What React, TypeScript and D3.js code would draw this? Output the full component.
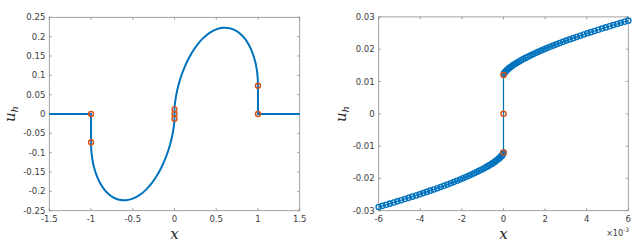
import React from "react";
import * as d3 from "d3";

// ---------- Data ----------
// Left panel: right half of the numerical solution on (0,1]; left half is its odd mirror
const leftHalfX = [0, 0.0005, 0.002, 0.006, 0.012, 0.02, 0.03, 0.045, 0.065, 0.09, 0.12, 0.16, 0.21, 0.27, 0.34, 0.42, 0.5, 0.58, 0.66, 0.73, 0.79, 0.845, 0.89, 0.925, 0.955, 0.975, 0.99, 0.997, 0.9995, 1.0];
const leftHalfU = [0.012, 0.0152, 0.02, 0.0286, 0.038, 0.0482, 0.0588, 0.0724, 0.0877, 0.104, 0.1207, 0.1396, 0.1592, 0.1782, 0.1955, 0.2099, 0.2189, 0.223, 0.2219, 0.2161, 0.207, 0.1942, 0.1793, 0.1635, 0.145, 0.1278, 0.1083, 0.0926, 0.0811, 0.0732];
const outerX = [1, 1.5];
const outerU = [0, 0];
// orange markers on the left panel
const leftMarkX = [-1, -1, 0, 0, 0, 1, 1];
const leftMarkU = [0, -0.073, -0.012, 0, 0.012, 0.073, 0];

// Right panel (x in units of 1e-3): positive half, negative half is odd mirror
const rightHalfX = [0, 0.02, 0.05, 0.08, 0.12, 0.17, 0.22, 0.28, 0.34, 0.41, 0.49, 0.57, 0.66, 0.75, 0.85, 0.95, 1.06, 1.17, 1.29, 1.41, 1.54, 1.67, 1.81, 1.95, 2.09, 2.24, 2.39, 2.54, 2.7, 2.86, 3.02, 3.18, 3.35, 3.52, 3.69, 3.86, 4.03, 4.2, 4.38, 4.56, 4.74, 4.92, 5.1, 5.28, 5.46, 5.64, 5.82, 6.0];
const rightHalfU = [0.012, 0.01238, 0.01269, 0.01295, 0.01324, 0.01357, 0.01386, 0.01418, 0.01448, 0.01482, 0.01517, 0.01551, 0.01587, 0.01621, 0.01658, 0.01693, 0.0173, 0.01766, 0.01804, 0.01841, 0.0188, 0.01918, 0.01957, 0.01996, 0.02034, 0.02073, 0.02112, 0.0215, 0.02189, 0.02228, 0.02266, 0.02303, 0.02342, 0.0238, 0.02418, 0.02455, 0.02492, 0.02528, 0.02565, 0.02602, 0.02639, 0.02675, 0.02711, 0.02746, 0.02781, 0.02816, 0.0285, 0.02884];
const rightMarkX = [0, 0, 0];
const rightMarkU = [-0.012, 0, 0.012];

const leftXTicks = [-1.5, -1, -0.5, 0, 0.5, 1, 1.5];
const leftYTicks = [-0.25, -0.2, -0.15, -0.1, -0.05, 0, 0.05, 0.1, 0.15, 0.2, 0.25];
const rightXTicks = [-6, -4, -2, 0, 2, 4, 6];
const rightYTicks = [-0.03, -0.02, -0.01, 0, 0.01, 0.02, 0.03];

const BLUE = "#0072BD";
const ORANGE = "#D95319";
const AXIS = "#8a8a8a";
const TEXT = "#3a3a3a";
const FONT = "DejaVu Sans, Liberation Sans, sans-serif";
const SERIF = "DejaVu Serif, Liberation Serif, serif";

type Pt = [number, number];

function fmt(v: number) {
  return String(+v.toFixed(4));
}

function Axes({ x0, x1, y0, y1, xd, yd, xt, yt }: any) {
  const x = d3.scaleLinear().domain(xd).range([x0, x1]);
  const y = d3.scaleLinear().domain(yd).range([y1, y0]);
  const tl = 2.5;
  return (
    <g>
      <rect x={x0} y={y0} width={x1 - x0} height={y1 - y0} fill="white" stroke={AXIS} strokeWidth={0.8} />
      {xt.map((t: number) => (
        <g key={"x" + t}>
          <line x1={x(t)} x2={x(t)} y1={y1} y2={y1 - tl} stroke={AXIS} strokeWidth={0.8} />
          <line x1={x(t)} x2={x(t)} y1={y0} y2={y0 + tl} stroke={AXIS} strokeWidth={0.8} />
          <text x={x(t)} y={y1 + 11.5} textAnchor="middle" fontSize={8.5} fill={TEXT} fontFamily={FONT}>{fmt(t)}</text>
        </g>
      ))}
      {yt.map((t: number) => (
        <g key={"y" + t}>
          <line x1={x0} x2={x0 + tl} y1={y(t)} y2={y(t)} stroke={AXIS} strokeWidth={0.8} />
          <line x1={x1} x2={x1 - tl} y1={y(t)} y2={y(t)} stroke={AXIS} strokeWidth={0.8} />
          <text x={x0 - 4} y={y(t) + 3} textAnchor="end" fontSize={8.5} fill={TEXT} fontFamily={FONT}>{fmt(t)}</text>
        </g>
      ))}
    </g>
  );
}

function Labels({ cx, cy, lx }: { cx: number; cy: number; lx: number }) {
  return (
    <g>
      <text x={cx} y={239} textAnchor="middle" fontSize={15} fontStyle="italic" fill="#222" fontFamily={SERIF}>x</text>
      <text transform={`translate(${lx},${cy}) rotate(-90)`} textAnchor="middle" fontStyle="italic" fill="#222" fontFamily={SERIF} fontSize={15}>
        u<tspan fontSize={10} dy={3}>h</tspan>
      </text>
    </g>
  );
}

export default function App() {
  const L = { x0: 49.3, x1: 299.7, y0: 17.3, y1: 210.7 };
  const lx = d3.scaleLinear().domain([-1.5, 1.5]).range([L.x0, L.x1]);
  const ly = d3.scaleLinear().domain([-0.25, 0.25]).range([L.y1, L.y0]);
  const R = { x0: 378.7, x1: 628.3, y0: 16.9, y1: 210.7 };
  const rx = d3.scaleLinear().domain([-6, 6]).range([R.x0, R.x1]);
  const ry = d3.scaleLinear().domain([-0.03, 0.03]).range([R.y1, R.y0]);

  const posL: Pt[] = leftHalfX.map((v, i) => [v, leftHalfU[i]]);
  const negL: Pt[] = leftHalfX.map((v, i) => [-v, -leftHalfU[i]] as Pt).reverse();
  const curveL = d3.line<Pt>().x(d => lx(d[0])).y(d => ly(d[1])).curve(d3.curveCatmullRom.alpha(0.5));
  const linL = d3.line<Pt>().x(d => lx(d[0])).y(d => ly(d[1]));
  const flatR: Pt[] = outerX.map((v, i) => [v, outerU[i]]);
  const flatLft: Pt[] = outerX.map((v, i) => [-v, -outerU[i]] as Pt).reverse();

  const posR: Pt[] = rightHalfX.map((v, i) => [v, rightHalfU[i]]);
  const negR: Pt[] = rightHalfX.map((v, i) => [-v, -rightHalfU[i]] as Pt).reverse();
  const lineR = d3.line<Pt>().x(d => rx(d[0])).y(d => ry(d[1])).curve(d3.curveCatmullRom.alpha(0.5));
  const linR = d3.line<Pt>().x(d => rx(d[0])).y(d => ry(d[1]));
  const allR = [...negR, ...posR.slice(1)];

  return (
    <svg width={643} height={251} style={{ position: "absolute", left: 0, top: 0, background: "white" }}>
      <rect width={643} height={251} fill="white" />
      {/* left panel */}
      <Axes {...L} xd={[-1.5, 1.5]} yd={[-0.25, 0.25]} xt={leftXTicks} yt={leftYTicks} />
      <g fill="none" stroke={BLUE} strokeWidth={2}>
        <path d={linL([...flatLft, [-1, -0.073]]) || ""} />
        <path d={curveL(negL) || ""} />
        <path d={linL([[0, -0.012], [0, 0.012]]) || ""} />
        <path d={curveL(posL) || ""} />
        <path d={linL([[1, 0.073], ...flatR]) || ""} />
      </g>
      {leftMarkX.map((v, i) => (
        <circle key={i} cx={lx(v)} cy={ly(leftMarkU[i])} r={2.5} fill="none" stroke={ORANGE} strokeWidth={1.4} />
      ))}
      <Labels cx={(L.x0 + L.x1) / 2} cy={114} lx={15} />

      {/* right panel */}
      <Axes {...R} xd={[-6, 6]} yd={[-0.03, 0.03]} xt={rightXTicks} yt={rightYTicks} />
      <path d={lineR(negR) || ""} fill="none" stroke={BLUE} strokeWidth={1.2} />
      <path d={linR([[0, -0.012], [0, 0.012]]) || ""} fill="none" stroke={BLUE} strokeWidth={1.2} />
      <path d={lineR(posR) || ""} fill="none" stroke={BLUE} strokeWidth={1.2} />
      {allR.map((d, i) => (
        <circle key={i} cx={rx(d[0])} cy={ry(d[1])} r={2.6} fill="none" stroke={BLUE} strokeWidth={1.4} />
      ))}
      {rightMarkX.map((v, i) => (
        <circle key={"o" + i} cx={rx(v)} cy={ry(rightMarkU[i])} r={2.6} fill="none" stroke={ORANGE} strokeWidth={1.4} />
      ))}
      <Labels cx={(R.x0 + R.x1) / 2} cy={114} lx={346} />
      <text x={629} y={236} textAnchor="end" fontSize={8} fill={TEXT} fontFamily={FONT}>
        ×10<tspan fontSize={6} dy={-4}>-3</tspan>
      </text>
    </svg>
  );
}
